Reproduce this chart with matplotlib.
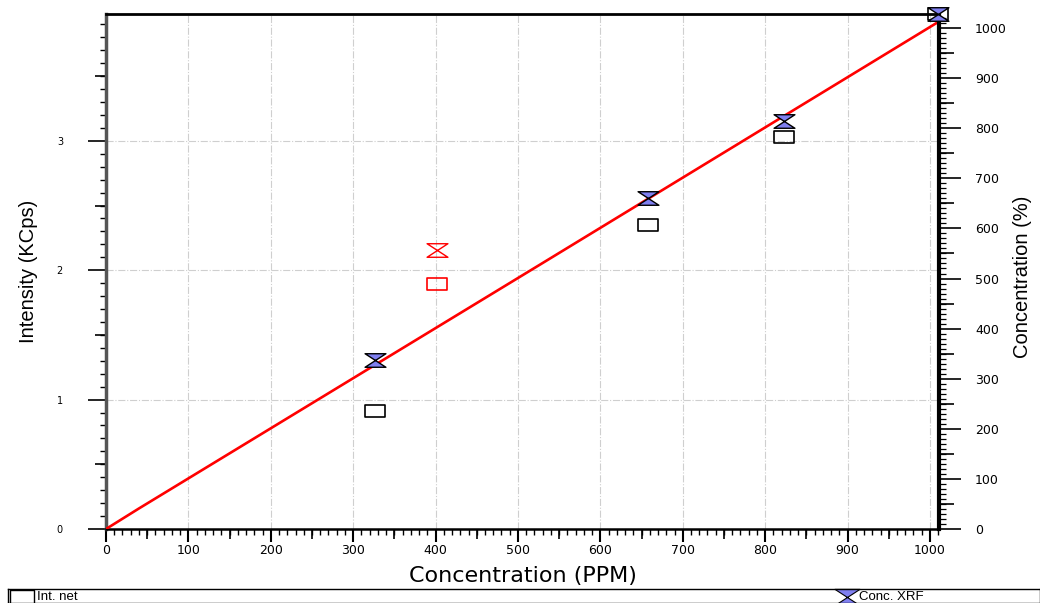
import matplotlib
matplotlib.use("Agg")
import matplotlib.pyplot as plt
import numpy as np
from matplotlib.path import Path
from matplotlib.ticker import MultipleLocator

plt.rcParams["font.family"] = ["DejaVu Sans"]

# data
std_conc = [327, 658, 823, 1010]          # standards, PPM
std_int = [0.91, 2.35, 3.03, 3.98]        # Int. net (KCps)
std_xrf = [337, 661, 814, 1028]           # Conc. XRF (%)
out_conc = [402]                          # outlier sample
out_int = [1.89]
out_xrf = [557]
fit_x = [0, 40, 530, 1010]                # calibration line
fit_y = [0, 41, 531, 1012]

blue = "#8080f0"
red = "#ff0000"

# custom markers: flat rectangle and hourglass
box = Path([(-1, -0.6), (1, -0.6), (1, 0.6), (-1, 0.6), (-1, -0.6)],
           [Path.MOVETO, Path.LINETO, Path.LINETO, Path.LINETO, Path.CLOSEPOLY])
hourglass = Path([(-1, 0.65), (1, 0.65), (-1, -0.65), (1, -0.65), (-1, 0.65)],
                 [Path.MOVETO, Path.LINETO, Path.LINETO, Path.LINETO, Path.CLOSEPOLY])

narrow = ["Liberation Sans", "DejaVu Sans"]

fig = plt.figure(figsize=(10.4, 6.03), dpi=100)
W, H = 1040, 603
ax = fig.add_axes([106 / W, 1 - 529 / H, (939 - 106) / W, (529 - 14) / H])
ax2 = ax.twinx()

ax.set_xlim(0, 1011)
ax.set_ylim(0, 3.98)
ax2.set_ylim(0, 1028)

ax.grid(True, color="#cfcfcf", linestyle="-.", linewidth=0.8)
ax.set_axisbelow(True)

# Int. net on left axis
ax.plot(std_conc, std_int, linestyle="none", marker=box, markersize=14,
        markerfacecolor="none", markeredgecolor="black", markeredgewidth=1.2,
        clip_on=False, zorder=3)
ax.plot(out_conc, out_int, linestyle="none", marker=box, markersize=14,
        markerfacecolor="none", markeredgecolor=red, markeredgewidth=1.2, zorder=3)

# calibration line and Conc. XRF on right axis
ax2.plot(fit_x, fit_y, color=red, linewidth=1.9, zorder=2)
ax2.plot(std_conc, std_xrf, linestyle="none", marker=hourglass, markersize=15,
         markerfacecolor=blue, markeredgecolor="black", markeredgewidth=1.0,
         clip_on=False, zorder=4)
ax2.plot(out_conc, out_xrf, linestyle="none", marker=hourglass, markersize=15,
         markerfacecolor="none", markeredgecolor=red, markeredgewidth=1.0, zorder=4)

# spines
ax.spines["left"].set_linewidth(2.5)
ax.spines["left"].set_color("#555555")
ax.spines["bottom"].set_linewidth(1.8)
ax.spines["top"].set_linewidth(2.0)
ax.spines["right"].set_visible(False)
for s in ["left", "bottom", "top"]:
    ax2.spines[s].set_visible(False)
ax2.spines["right"].set_linewidth(3.0)

# ticks
ax.xaxis.set_major_locator(MultipleLocator(100))
ax.xaxis.set_minor_locator(MultipleLocator(10))
ax.yaxis.set_major_locator(MultipleLocator(1))
ax.yaxis.set_minor_locator(MultipleLocator(0.1))
ax.tick_params(axis="x", which="major", direction="out", length=9, width=1.5,
               labelsize=9, pad=2)
ax.tick_params(axis="x", which="minor", direction="out", length=4, width=1.0)
ax.tick_params(axis="y", which="major", direction="out", length=13, width=1.2,
               labelsize=7, pad=18)
ax.tick_params(axis="y", which="minor", direction="out", length=4, width=1.0)

ax2.yaxis.set_major_locator(MultipleLocator(100))
ax2.yaxis.set_minor_locator(MultipleLocator(10))
ax2.tick_params(axis="y", which="major", direction="out", length=16, width=1.2,
                labelsize=9, pad=10)
ax2.tick_params(axis="y", which="minor", direction="out", length=5, width=0.9)

# medium ticks at the half steps
sx = ax.secondary_xaxis("bottom")
sx.set_xticks(np.arange(50, 1011, 100))
sx.set_xticklabels([])
sx.tick_params(length=7, width=1.2)
sx.spines["bottom"].set_visible(False)
sy = ax.secondary_yaxis("left")
sy.set_yticks(np.arange(0.5, 3.98, 1.0))
sy.set_yticklabels([])
sy.tick_params(length=8, width=1.2)
sy.spines["left"].set_visible(False)
sr = ax2.secondary_yaxis("right")
sr.set_yticks(np.arange(50, 1028, 100))
sr.set_yticklabels([])
sr.tick_params(length=11, width=1.2)
sr.spines["right"].set_visible(False)

ax.set_xlabel("Concentration (PPM)", fontsize=16)
ax.xaxis.set_label_coords((523 - 106) / 833, -(566 - 529) / 515)
ax.set_ylabel("Intensity (KCps)", fontsize=14.5, family=narrow)
ax.yaxis.set_label_coords((38 - 106) / 833, 0.5)
ax2.set_ylabel("Concentration (%)", fontsize=14.5, family=narrow)
ax2.yaxis.set_label_coords((1013 - 106) / 833, (529 - 277) / 515)

# legend strip at the bottom
lg = fig.add_axes([8 / W, 0.0, (1040 - 8) / W, 14 / H])
lg.set_xlim(0, 1)
lg.set_ylim(0, 1)
lg.set_xticks([])
lg.set_yticks([])
for s in lg.spines.values():
    s.set_linewidth(1.0)
lg.plot([0.0135], [0.4], marker=box, markersize=17, markerfacecolor="white",
        markeredgecolor="black", markeredgewidth=1.0, clip_on=False)
lg.text(0.0285, 0.42, "Int. net", fontsize=9.5, va="center", ha="left",
        family=narrow)
lg.plot([0.813], [0.4], marker=hourglass, markersize=18, markerfacecolor=blue,
        markeredgecolor="black", markeredgewidth=0.8, clip_on=False)
lg.text(0.8245, 0.42, "Conc. XRF", fontsize=9.5, va="center", ha="left",
        family=narrow)

fig.savefig("out.png", dpi=100)
